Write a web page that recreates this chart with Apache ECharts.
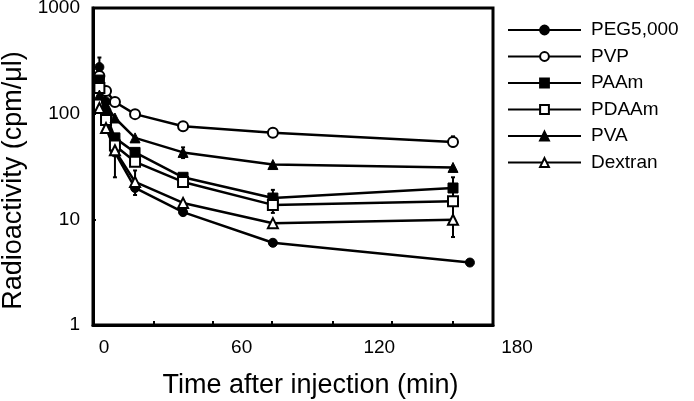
<!DOCTYPE html>
<html>
<head>
<meta charset="utf-8">
<script src="https://cdn.jsdelivr.net/npm/echarts@6/dist/echarts.min.js"></script>
<style>
html,body{margin:0;padding:0;background:#fff;}
#chart{width:694px;height:401px;}
</style>
</head>
<body>
<div id="chart"></div>
<script>
// ---- data ----
var seriesNames = ["PEG5,000", "PVP", "PAAm", "PDAAm", "PVA", "Dextran"];
var timeMain = [-2.2, 0.7, 4.6, 13.4, 34.4, 73.7, 152.5];
var timePEG  = [-2.2, 0.7, 4.6, 13.4, 34.4, 73.7, 159.9];
var pegValues     = [276, 130, 43, 19.8, 11.7, 6.0, 3.9];
var pvpValues     = [227, 164, 129, 99, 76, 66, 54];
var paamValues    = [208, 97, 59, 43, 25, 15.9, 19.8];
var pdaamValues   = [175, 87, 50, 35, 22.6, 13.7, 14.8];
var pvaValues     = [150, 121, 91, 59, 43, 33, 31];
var dextranValues = [113, 73, 45, 22.6, 14.3, 9.2, 9.9];
// error bars: [time, low, high]
var errPEG     = [[-2.2, 200, 340], [4.6, 25, 60]];
var errPVP     = [[-2.2, 190, 270], [152.5, 49, 61]];
var errPAAm    = [[152.5, 16, 25]];
var errPDAAm   = [[73.7, 11.5, 19]];
var errPVA     = [[34.4, 38, 48]];
var errDextran = [[13.4, 17, 29], [152.5, 6.8, 14.3]];
var xTickValues  = [21.4, 47.6, 73.4, 99.9, 125.7, 152.2];
var xLabelValues = [0, 60, 120, 180];

var FONT = "'Liberation Sans', Arial, sans-serif";
function zip(xs, ys) { return xs.map(function (x, i) { return [x, ys[i]]; }); }

var symbols = {
  "PEG5,000": {symbol: "circle", filled: true, size: 9},
  "PVP": {symbol: "circle", filled: false, size: 10},
  "PAAm": {symbol: "rect", filled: true, size: 10},
  "PDAAm": {symbol: "rect", filled: false, size: 10},
  "PVA": {symbol: "triangle", filled: true, size: 10},
  "Dextran": {symbol: "triangle", filled: false, size: 10}
};
var dataMap = {
  "PEG5,000": zip(timePEG, pegValues),
  "PVP": zip(timeMain, pvpValues),
  "PAAm": zip(timeMain, paamValues),
  "PDAAm": zip(timeMain, pdaamValues),
  "PVA": zip(timeMain, pvaValues),
  "Dextran": zip(timeMain, dextranValues)
};
var errAll = [].concat(errPEG, errPVP, errPAAm, errPDAAm, errPVA, errDextran);

var series = [{
  type: "custom",
  xAxisIndex: 0, yAxisIndex: 0,
  data: errAll,
  silent: true,
  z: 1,
  renderItem: function (params, api) {
    var p1 = api.coord([api.value(0), api.value(1)]);
    var p2 = api.coord([api.value(0), api.value(2)]);
    return {
      type: "group",
      children: [
        {type: "line", shape: {x1: p1[0], y1: p1[1], x2: p2[0], y2: p2[1]}, style: {stroke: "#000", lineWidth: 2}},
        {type: "line", shape: {x1: p1[0] - 2, y1: p1[1], x2: p1[0] + 2, y2: p1[1]}, style: {stroke: "#000", lineWidth: 2}},
        {type: "line", shape: {x1: p2[0] - 2, y1: p2[1], x2: p2[0] + 2, y2: p2[1]}, style: {stroke: "#000", lineWidth: 2}}
      ]
    };
  }
}];
seriesNames.forEach(function (name) {
  var s = symbols[name];
  series.push({
    name: name,
    type: "line",
    xAxisIndex: 0, yAxisIndex: 0,
    data: dataMap[name],
    symbol: s.symbol,
    symbolSize: s.size,
    showAllSymbol: true,
    z: 3,
    lineStyle: {color: "#000", width: 2.5},
    itemStyle: s.filled ? {color: "#000", borderColor: "#000", borderWidth: 1}
                        : {color: "#fff", borderColor: "#000", borderWidth: 2},
    emphasis: {disabled: true},
    animation: false
  });
});

var chart = echarts.init(document.getElementById("chart"), null, {renderer: "canvas"});
chart.setOption({
  animation: false,
  backgroundColor: "#fff",
  textStyle: {fontFamily: FONT, color: "#000"},
  grid: [
    {left: 93, right: 201, top: 8, bottom: 76, outerBoundsMode: "none", containLabel: false,
     show: true, borderColor: "#000", borderWidth: 3, backgroundColor: "transparent"},
    {left: 104, right: 177, top: 8, bottom: 76, outerBoundsMode: "none", containLabel: false, show: false}
  ],
  xAxis: [
    {
      type: "value", gridIndex: 0, min: -5, max: 170,
      axisLine: {show: true, onZero: false, lineStyle: {color: "#000", width: 3}},
      axisTick: {show: true, inside: true, length: 4, customValues: xTickValues, lineStyle: {color: "#000", width: 2}},
      axisLabel: {show: false},
      splitLine: {show: false}
    },
    {
      type: "value", gridIndex: 1, min: 0, max: 180, interval: 60,
      name: "Time after injection (min)",
      nameLocation: "middle", nameGap: 47,
      nameTextStyle: {fontSize: 27, color: "#000", fontFamily: FONT},
      axisLine: {show: false}, axisTick: {show: false}, splitLine: {show: false},
      axisLabel: {show: true, margin: 13, fontSize: 19, color: "#000", fontFamily: FONT, customValues: xLabelValues}
    }
  ],
  yAxis: [
    {
      type: "log", logBase: 10, gridIndex: 0, min: 1, max: 1000,
      name: "Radioactivity (cpm/\u03bcl)",
      nameLocation: "middle", nameGap: 59,
      nameTextStyle: {fontSize: 27, color: "#000", fontFamily: FONT, padding: [0, 28, 0, 0]},
      axisLine: {show: true, onZero: false, lineStyle: {color: "#000", width: 3}},
      axisTick: {show: true, inside: true, length: 3, lineStyle: {color: "#000", width: 2}},
      axisLabel: {show: true, margin: 13, fontSize: 19, color: "#000", fontFamily: FONT,
                  formatter: function (v) { return String(Math.round(v)); }},
      splitLine: {show: false},
      minorTick: {show: false}
    },
    {type: "value", gridIndex: 1, show: false, min: 0, max: 1}
  ],
  legend: {
    orient: "vertical",
    left: 507, top: 20, padding: 0,
    itemWidth: 73, itemHeight: 11, itemGap: 6.5,
    selectedMode: false,
    data: seriesNames,
    textStyle: {fontSize: 19, color: "#000", fontFamily: FONT, lineHeight: 20, padding: [0, 0, 0, 5]}
  },
  series: series
});
</script>
</body>
</html>
